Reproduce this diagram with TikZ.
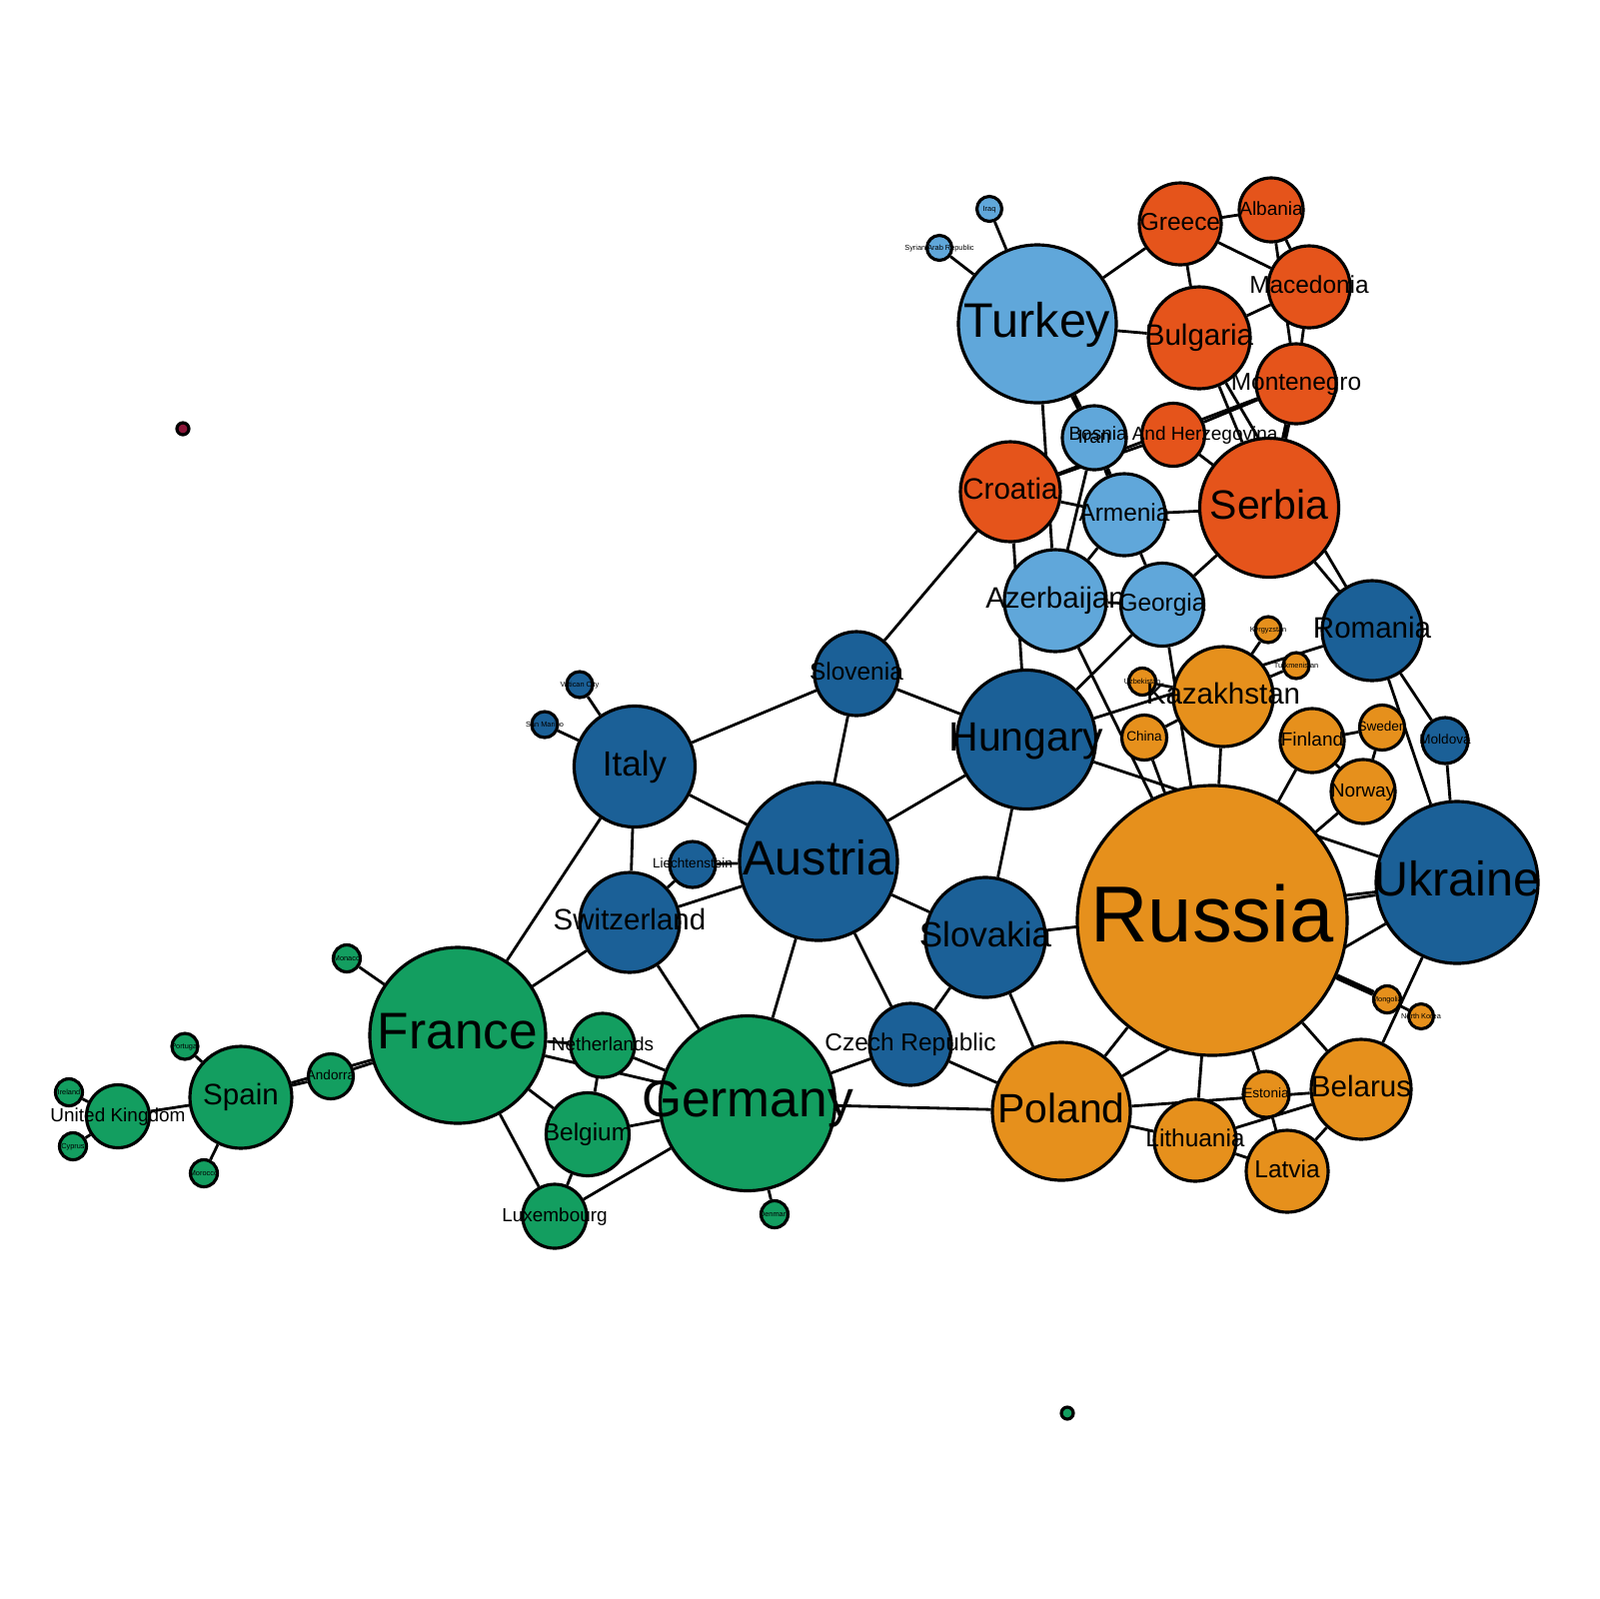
\documentclass[tikz,border=0pt]{standalone}
\usepackage{fontspec}
\setmainfont{Liberation Sans}
\usetikzlibrary{backgrounds}
\definecolor{cG}{HTML}{139E60}
\definecolor{cD}{HTML}{1B6097}
\definecolor{cL}{HTML}{60A7DA}
\definecolor{cR}{HTML}{E5541B}
\definecolor{cO}{HTML}{E6901C}
\definecolor{cK}{HTML}{8B1538}
\begin{document}
\begin{tikzpicture}[x=0.1mm,y=-0.1mm,
  vtx/.style={circle,draw=black,line width=0.9pt,inner sep=0pt,minimum size=#1*0.2mm},
  lnk/.style={line width=0.8pt,draw=black},
  lnkb/.style={line width=1.7pt,draw=black},
  lbl/.style={inner sep=0pt,text=black,text depth=0pt}]
\useasboundingbox (0,0) rectangle (1600,1600);
\foreach \n/\x/\y/\r/\c in {
 turkey/1038/324/79/cL, iraq/990/209/12.5/cL, syria/940/248/12.5/cL,
 greece/1181/224/41/cR, albania/1272/210/32/cR, macedonia/1310/287/41/cR,
 bulgaria/1200/338/51/cR, montenegro/1297/384/40/cR, iran/1095/438/32/cL,
 bosnia/1174/435/31.5/cR, croatia/1011/492/50/cR, armenia/1125/515/41/cL,
 serbia/1270/508/69.5/cR, azerbaijan/1056/601/51/cL, georgia/1163/605/41.5/cL,
 romania/1373/631/50/cD, kyrgyzstan/1269/630/13/cO, turkmenistan/1297/666/13/cO,
 uzbekistan/1143/682/13.5/cO, kazakhstan/1224/697/50/cO, china/1145/738/22.5/cO,
 finland/1313/741/32/cO, sweden/1383/728/22.5/cO, moldova/1446/741/23/cD,
 norway/1364/792/32/cO, slovenia/857/674/42/cD, hungary/1027/740/69.5/cD,
 italy/635/767/60.5/cD, vatican/580/685/13/cD, sanmarino/545/725/13/cD,
 liechtenstein/693/865/23/cD, austria/819/862/79/cD, switzerland/630/923/50/cD,
 slovakia/986/938/60/cD, russia/1213/921/135/cO, ukraine/1458/883/81/cD,
 mongolia/1388/1000/13.5/cO, nkorea/1422/1017/12.5/cO, czech/911/1045/41/cD,
 poland/1062/1112/69/cO, belarus/1362/1090/50/cO, estonia/1267/1095/23/cO,
 lithuania/1196/1141/41/cO, latvia/1288/1172/41/cO, france/458/1036/88/cG,
 germany/748/1104/87.5/cG, netherlands/603/1046/32/cG, belgium/588/1135/41.5/cG,
 luxembourg/555/1217/32/cG, denmark/775/1215/13.5/cG, monaco/347/959/13.5/cG,
 andorra/331/1077/22.5/cG, spain/241/1098/51/cG, portugal/185/1047/13/cG,
 morocco/204/1174/13.5/cG, uk/118/1117/31.5/cG, ireland/69/1093/13.5/cG,
 cyprus/73/1147/13.5/cG, dotA/183/429/6/cK, dotB/1068/1414/6/cG}
 \node[vtx=\r,fill=\c] (\n) at (\x,\y) {};
\begin{scope}[on background layer]
\foreach \a/\b in {
 turkey/iraq, turkey/syria, turkey/greece, turkey/bulgaria, turkey/azerbaijan,
 greece/albania, greece/bulgaria, greece/macedonia, albania/macedonia, albania/montenegro,
 macedonia/bulgaria, macedonia/montenegro, bulgaria/serbia, bulgaria/romania,
 bosnia/serbia, bosnia/montenegro, croatia/montenegro, croatia/bosnia,
 iran/azerbaijan, croatia/armenia, armenia/serbia, armenia/azerbaijan, armenia/georgia,
 azerbaijan/georgia, georgia/serbia, croatia/slovenia, croatia/hungary,
 azerbaijan/russia, georgia/hungary, georgia/russia, hungary/romania,
 uzbekistan/kazakhstan, china/kazakhstan, china/russia, hungary/ukraine,
 kazakhstan/russia, kazakhstan/kyrgyzstan, kazakhstan/turkmenistan,
 serbia/romania, romania/ukraine, romania/moldova, moldova/ukraine,
 finland/sweden, sweden/norway, finland/norway, finland/russia, norway/russia,
 russia/ukraine, slovakia/ukraine, poland/ukraine, mongolia/nkorea,
 ukraine/belarus, russia/belarus, russia/estonia, russia/lithuania, russia/poland,
 poland/belarus, poland/lithuania, lithuania/belarus, lithuania/latvia,
 estonia/latvia, latvia/belarus, germany/poland, czech/poland, slovakia/poland,
 czech/germany, czech/slovakia, czech/austria, austria/slovakia, austria/hungary,
 austria/slovenia, slovenia/hungary, hungary/slovakia, slovenia/italy, italy/austria,
 italy/switzerland, italy/france, italy/vatican, italy/sanmarino,
 austria/liechtenstein, liechtenstein/switzerland, switzerland/austria,
 switzerland/france, switzerland/germany, austria/germany,
 france/monaco, france/andorra, andorra/spain, france/spain,
 spain/uk, spain/portugal, spain/morocco, uk/ireland, uk/cyprus,
 france/netherlands, france/belgium, france/luxembourg, france/germany,
 netherlands/germany, netherlands/belgium, belgium/germany, belgium/luxembourg,
 luxembourg/germany, germany/denmark}
 \draw[lnk] (\a) -- (\b);
\foreach \a/\b in {turkey/iran, iran/armenia, montenegro/serbia, russia/mongolia}
 \draw[lnkb] (\a) -- (\b);
\end{scope}
\foreach \n/\t/\f in {
 turkey/Turkey/13.8, iraq/Iraq/2.1, syria/Syrian Arab Republic/2.1,
 greece/Greece/6.95, albania/Albania/5.4, macedonia/Macedonia/6.95,
 bulgaria/Bulgaria/8.4, montenegro/Montenegro/6.95, iran/Iran/5.4,
 bosnia/Bosnia And Herzegovina/5.4, croatia/Croatia/8.4, armenia/Armenia/6.95,
 serbia/Serbia/11.65, azerbaijan/Azerbaijan/8.4, georgia/Georgia/6.95,
 romania/Romania/8.4, kyrgyzstan/Kyrgyzstan/2.1, turkmenistan/Turkmenistan/2.1,
 uzbekistan/Uzbekistan/2.1, kazakhstan/Kazakhstan/8.4, china/China/3.85,
 finland/Finland/5.4, sweden/Sweden/3.85, moldova/Moldova/3.85,
 norway/Norway/5.4, slovenia/Slovenia/6.95, hungary/Hungary/11.65,
 italy/Italy/9.95, vatican/Vatican City/2.1, sanmarino/San Marino/2.1,
 liechtenstein/Liechtenstein/3.85, austria/Austria/13.8, switzerland/Switzerland/8.4,
 slovakia/Slovakia/9.95, russia/Russia/22.6, ukraine/Ukraine/13.8,
 mongolia/Mongolia/2.1, nkorea/North Korea/2.1, czech/Czech Republic/6.95,
 poland/Poland/11.65, belarus/Belarus/8.4, estonia/Estonia/3.85,
 lithuania/Lithuania/6.95, latvia/Latvia/6.95, france/France/14.65,
 germany/Germany/14.65, netherlands/Netherlands/5.4, belgium/Belgium/6.95,
 luxembourg/Luxembourg/5.4, denmark/Denmark/2.1, monaco/Monaco/2.1,
 andorra/Andorra/3.85, spain/Spain/8.4, portugal/Portugal/2.1,
 morocco/Morocco/2.1, uk/United Kingdom/5.4, ireland/Ireland/2.1, cyprus/Cyprus/2.1}
 \node[lbl,text height=0.54*\f pt,font=\fontsize{\f}{\f}\selectfont] (t-\n) at (\n) {\t};
\end{tikzpicture}
\end{document}
